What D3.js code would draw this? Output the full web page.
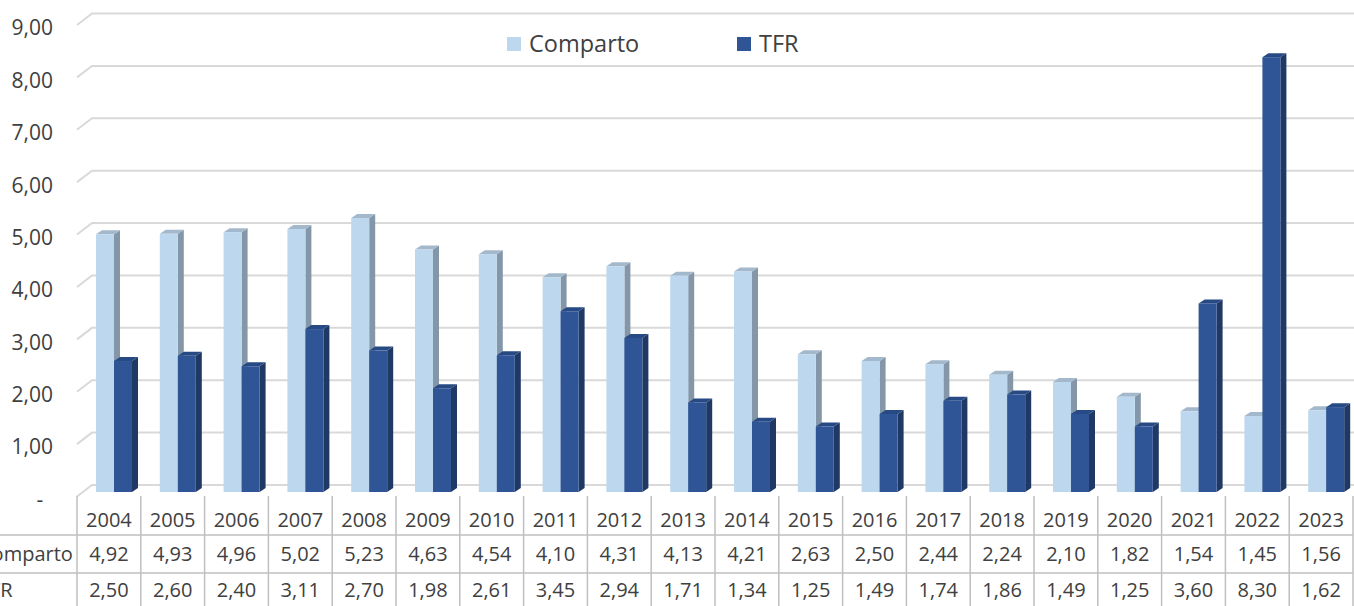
<!DOCTYPE html>
<html>
<head>
<meta charset="utf-8">
<script src="https://cdn.jsdelivr.net/npm/d3@7"></script>
<style>
  body { margin: 0; background: #fff; }
  svg { display: block; font-family: "Open Sans", sans-serif; }
</style>
</head>
<body>
<svg id="chart"></svg>
<script>
const years = ["2004","2005","2006","2007","2008","2009","2010","2011","2012","2013",
               "2014","2015","2016","2017","2018","2019","2020","2021","2022","2023"];
const comparto = [4.92,4.93,4.96,5.02,5.23,4.63,4.54,4.10,4.31,4.13,4.21,2.63,2.50,2.44,2.24,2.10,1.82,1.54,1.45,1.56];
const tfr = [2.50,2.60,2.40,3.11,2.70,1.98,2.61,3.45,2.94,1.71,1.34,1.25,1.49,1.74,1.86,1.49,1.25,3.60,8.30,1.62];
const seriesNames = ["Comparto", "TFR"];
const yTicks = [0,1,2,3,4,5,6,7,8,9];

const width = 1354, height = 606;
const colors = {
  Comparto: { front: "#bdd7ee", side: "#8497a9", top: "#a3b8cb" },
  TFR: { front: "#2f5597", side: "#1f3864", top: "#274a85" }
};
const fmt = v => v.toFixed(2).replace(".", ",");

const svg = d3.select("#chart").attr("width", width).attr("height", height);

// back wall scale; 3D floor depth
const y = d3.scaleLinear().domain([0, 9]).range([485, 13.5]);
const depthX = 15, depthY = 11.5;
const x = d3.scaleBand().domain(years).range([77, 1353]);
const xs = d3.scaleBand().domain(seriesNames).range([19, 55]);

// gridlines
const grid = svg.append("g").attr("stroke", "#d9d9d9").attr("stroke-width", 2).attr("fill", "none");
yTicks.forEach(t => {
  grid.append("path")
    .attr("d", `M77,${y(t) + depthY}L${77 + depthX},${y(t)}L${width},${y(t)}`);
});

// y axis labels
svg.append("g").selectAll("text")
  .data(yTicks)
  .join("text")
  .attr("x", d => d === 0 ? 40 : 53)
  .attr("y", d => y(d) + depthY + 3)
  .attr("dy", "0.35em")
  .attr("text-anchor", d => d === 0 ? "middle" : "end")
  .attr("font-size", 21)
  .attr("fill", "#404040")
  .text(d => d === 0 ? "-" : fmt(d));

// 3D bars
const barW = xs.bandwidth(), dx = 6, dy = 4, off = 7;
const bars = svg.append("g");
years.forEach((yr, i) => {
  [["Comparto", comparto[i]], ["TFR", tfr[i]]].forEach(([s, v]) => {
    const x0 = x(yr) + xs(s), x1 = x0 + barW;
    const top = y(v) + off, bot = y(0) + off;
    const c = colors[s];
    bars.append("path").attr("fill", c.side)
      .attr("d", `M${x1},${top}L${x1 + dx},${top - dy}L${x1 + dx},${bot - dy}L${x1},${bot}Z`);
    bars.append("path").attr("fill", c.top)
      .attr("d", `M${x0},${top}L${x0 + dx},${top - dy}L${x1 + dx},${top - dy}L${x1},${top}Z`);
    bars.append("rect").attr("fill", c.front)
      .attr("x", x0).attr("y", top).attr("width", barW).attr("height", bot - top);
  });
});

// legend
const legend = svg.append("g").attr("font-size", 23.5).attr("fill", "#404040");
[["Comparto", 507], ["TFR", 737]].forEach(([s, lx]) => {
  legend.append("rect").attr("x", lx).attr("y", 37).attr("width", 14).attr("height", 14)
    .attr("fill", colors[s].front);
  legend.append("text").attr("x", lx + 22).attr("y", 44).attr("dy", "0.35em")
    .attr("fill", "#404040").text(s);
});

// data table
const table = svg.append("g");
const tLine = "#bfbfbf";
x.domain().concat([null]).forEach((yr, i) => {
  const xx = yr ? x(yr) : x.range()[1];
  table.append("line").attr("x1", xx).attr("x2", xx).attr("y1", 496).attr("y2", height)
    .attr("stroke", tLine).attr("stroke-width", 1.5);
});
[535, 573].forEach(ly => {
  table.append("line").attr("x1", 0).attr("x2", x.range()[1]).attr("y1", ly).attr("y2", ly)
    .attr("stroke", tLine).attr("stroke-width", 1.5);
});
const rowY = { year: 520, Comparto: 554, TFR: 590 };
table.append("g").selectAll("text").data(years).join("text")
  .attr("x", d => x(d) + x.bandwidth() / 2).attr("y", rowY.year).attr("dy", "0.35em")
  .attr("text-anchor", "middle").attr("font-size", 20).attr("fill", "#404040").text(d => d);
// row labels start left of the frame, as in the reference
[["Comparto", comparto], ["TFR", tfr]].forEach(([s, vals]) => {
  table.append("text").attr("x", -21).attr("y", rowY[s]).attr("dy", "0.35em")
    .attr("font-size", 20).attr("fill", "#404040").text(s);
  table.append("g").selectAll("text").data(vals).join("text")
    .attr("x", (d, i) => x(years[i]) + x.bandwidth() / 2).attr("y", rowY[s]).attr("dy", "0.35em")
    .attr("text-anchor", "middle").attr("font-size", 20).attr("fill", "#404040").text(d => fmt(d));
});
</script>
</body>
</html>
